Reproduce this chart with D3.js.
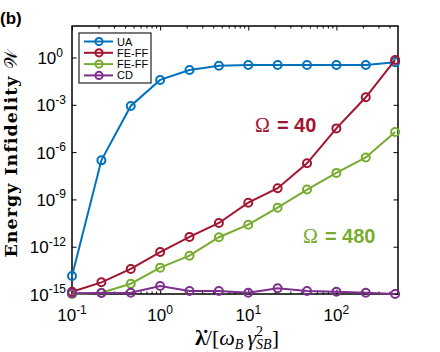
<!DOCTYPE html>
<html>
<head>
<meta charset="utf-8">
<script src="https://cdn.jsdelivr.net/npm/d3@7"></script>
<style>
  body { margin: 0; background: #fff; }
  svg { display: block; }
</style>
</head>
<body>
<svg id="chart" width="440" height="352"></svg>
<script>
// rate values (1/3 decade steps)
var rates = [0.1, 0.2154, 0.4642, 1, 2.154, 4.642, 10, 21.54, 46.42, 100, 215.4, 464.2];

var uaVals = [1.4e-14, 3e-7, 8.5e-4, 0.038, 0.16, 0.3, 0.34, 0.34, 0.34, 0.34, 0.34, 0.5];
var feff40Vals = [1.4e-15, 5.5e-15, 3.9e-14, 4.6e-13, 4.2e-12, 3.2e-11, 6.2e-10, 5.1e-9, 1.95e-7, 3.2e-5, 3.0e-3, 0.7];
var feff480Vals = [1e-15, 1.2e-15, 4.5e-15, 4.7e-14, 2.7e-13, 4e-12, 2.5e-11, 3e-10, 4.2e-9, 4.8e-8, 4.6e-7, 1.9e-5];
var cdVals = [1.1e-15, 1.15e-15, 1.2e-15, 3.2e-15, 1.55e-15, 1.55e-15, 1.2e-15, 2.3e-15, 1.55e-15, 1.4e-15, 1.2e-15, 1e-15];

var seriesNames = ["UA", "FE-FF", "FE-FF", "CD"];
var seriesColors = ["#0072BD", "#A2142F", "#77AC30", "#7E2F8E"];

var xTickExps = [-1, 0, 1, 2];
var yTickExps = [0, -3, -6, -9, -12, -15];

var padL = 72, padR = 398, padT = 26, padB = 294;

var svg = d3.select("#chart");

var x = d3.scaleLog().domain([0.1, 500]).range([padL, padR]);
var y = d3.scaleLog().domain([1e-15, 1e2]).range([padB, padT]);

var sansFont = "'Liberation Sans', Arial, Helvetica, sans-serif";
var serifFont = "'Liberation Serif', 'DejaVu Serif', serif";

// minor x ticks
var minorX = [];
xTickExps.forEach(function (e) {
    for (var k = 2; k <= 9; k++) {
        var v = k * Math.pow(10, e);
        if (v < 500) minorX.push(v);
    }
});

function drawTicks(axisFn, scale, values, size, tx, ty) {
    var g = svg.append("g")
        .attr("transform", "translate(" + tx + "," + ty + ")")
        .call(axisFn(scale).tickValues(values).tickSize(size).tickFormat(""));
    g.select(".domain").remove();
    g.selectAll(".tick text").remove();
    g.selectAll(".tick line").attr("stroke", "#000").attr("stroke-width", 1);
}

var xMajor = xTickExps.map(function (e) { return Math.pow(10, e); });
var yMajor = yTickExps.map(function (e) { return Math.pow(10, e); });

drawTicks(d3.axisBottom, x, xMajor, -4.5, 0, padB);
drawTicks(d3.axisBottom, x, minorX, -2.5, 0, padB);
drawTicks(d3.axisTop, x, xMajor, -4.5, 0, padT);
drawTicks(d3.axisTop, x, minorX, -2.5, 0, padT);
drawTicks(d3.axisLeft, y, yMajor, -4.5, padL, 0);
drawTicks(d3.axisRight, y, yMajor, -4.5, padR, 0);

svg.append("rect")
    .attr("x", padL)
    .attr("y", padT)
    .attr("width", padR - padL)
    .attr("height", padB - padT)
    .attr("fill", "none")
    .attr("stroke", "#000")
    .attr("stroke-width", 1.5);

// tick labels 10^n
function powLabel(sel, e) {
    sel.append("tspan").text("10");
    sel.append("tspan")
        .attr("dy", -7.5)
        .attr("font-size", 12)
        .text(e < 0 ? "-" + (-e) : String(e));
}

xTickExps.forEach(function (e) {
    var t = svg.append("text")
        .attr("x", x(Math.pow(10, e)))
        .attr("y", 321)
        .attr("text-anchor", "middle")
        .attr("font-family", sansFont)
        .attr("font-size", 17)
        .attr("fill", "#000");
    powLabel(t, e);
});

yTickExps.forEach(function (e) {
    var t = svg.append("text")
        .attr("x", e < 0 ? 66 : 63)
        .attr("y", y(Math.pow(10, e)) + 6.5)
        .attr("text-anchor", "end")
        .attr("font-family", sansFont)
        .attr("font-size", 17)
        .attr("fill", "#000");
    powLabel(t, e);
});

// series
var allSeries = [uaVals, feff40Vals, feff480Vals, cdVals];

var line = d3.line()
    .x(function (d) { return x(d[0]); })
    .y(function (d) { return y(d[1]); });

allSeries.forEach(function (vals, i) {
    var pts = rates.map(function (r, j) { return [r, vals[j]]; });
    svg.append("path")
        .datum(pts)
        .attr("d", line)
        .attr("fill", "none")
        .attr("stroke", seriesColors[i])
        .attr("stroke-width", 2);
    svg.append("g")
        .selectAll("circle")
        .data(pts)
        .enter().append("circle")
        .attr("cx", function (d) { return x(d[0]); })
        .attr("cy", function (d) { return y(d[1]); })
        .attr("r", 4)
        .attr("fill", "none")
        .attr("stroke", seriesColors[i])
        .attr("stroke-width", 2);
});

// legend
var legend = svg.append("g");
legend.append("rect")
    .attr("x", 79)
    .attr("y", 33)
    .attr("width", 72)
    .attr("height", 50)
    .attr("fill", "#fff")
    .attr("stroke", "#222")
    .attr("stroke-width", 1.2);

seriesNames.forEach(function (name, i) {
    var ly = 41.5 + i * 11.3;
    legend.append("line")
        .attr("x1", 84).attr("x2", 113)
        .attr("y1", ly).attr("y2", ly)
        .attr("stroke", seriesColors[i])
        .attr("stroke-width", 2);
    legend.append("circle")
        .attr("cx", 99).attr("cy", ly).attr("r", 3.6)
        .attr("fill", "none")
        .attr("stroke", seriesColors[i])
        .attr("stroke-width", 2);
    legend.append("text")
        .attr("x", 117)
        .attr("y", ly + 4)
        .attr("font-family", sansFont)
        .attr("font-size", 11)
        .attr("fill", "#000")
        .text(name);
});

// annotations
function omegaLabel(xp, yp, value, color) {
    var t = svg.append("text")
        .attr("x", xp)
        .attr("y", yp)
        .attr("fill", color);
    t.append("tspan")
        .attr("font-family", serifFont)
        .attr("font-size", 20)
        .text("Ω");
    t.append("tspan")
        .attr("font-family", sansFont)
        .attr("font-weight", "bold")
        .attr("font-size", 20)
        .attr("dx", 7)
        .text("= " + value);
}
omegaLabel(255, 132, "40", "#A2142F");
omegaLabel(303, 243, "480", "#77AC30");

// panel label
svg.append("text")
    .attr("x", 0)
    .attr("y", 24)
    .attr("font-family", sansFont)
    .attr("font-weight", "bold")
    .attr("font-size", 17)
    .text("(b)");

// y label
var yl = svg.append("text")
    .attr("transform", "translate(17,153) rotate(-90)")
    .attr("text-anchor", "middle")
    .attr("font-family", "'DejaVu Serif', serif")
    .attr("font-size", 17.5)
    .attr("letter-spacing", 1)
    .attr("fill", "#000");
yl.append("tspan").attr("font-weight", "bold").text("Energy Infidelity ");
yl.append("tspan").attr("font-family", "'DejaVu Sans', serif").text("𝒲");

// x label
var xl = svg.append("text")
    .attr("x", 237)
    .attr("y", 345)
    .attr("text-anchor", "middle")
    .attr("font-family", serifFont)
    .attr("font-size", 22)
    .attr("fill", "#000");
xl.append("tspan").attr("font-weight", "bold").text("λ\u0307");
xl.append("tspan").text("/[");
xl.append("tspan").attr("font-style", "italic").text("ω");
xl.append("tspan").attr("font-style", "italic").attr("font-size", 14).attr("dy", 4).text("B");
xl.append("tspan").attr("font-style", "italic").attr("dy", -4).attr("dx", 4).text("γ");
xl.append("tspan").attr("font-size", 14).attr("dy", -9).text("2");
xl.append("tspan").attr("font-style", "italic").attr("font-size", 14).attr("dy", 13).attr("dx", -7).text("SB");
xl.append("tspan").attr("dy", -4).text("]");
</script>
</body>
</html>
